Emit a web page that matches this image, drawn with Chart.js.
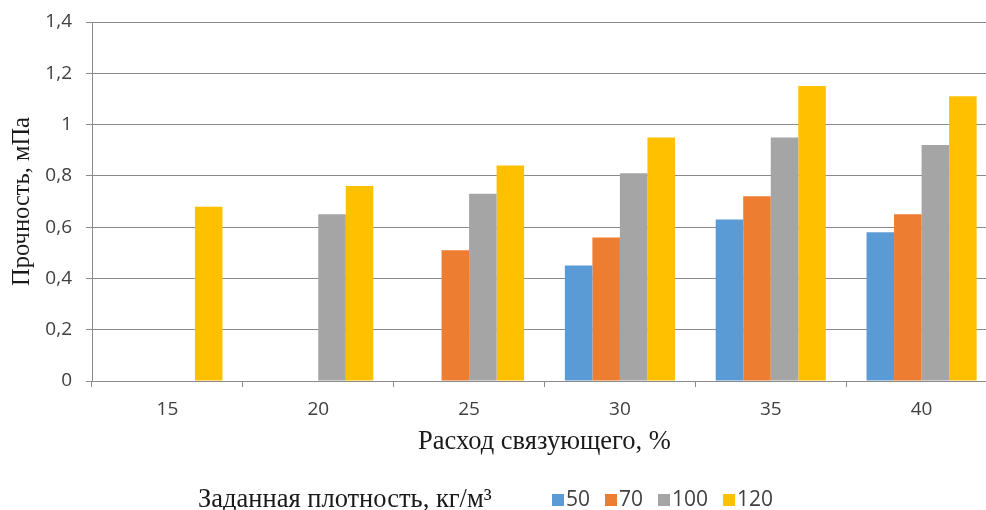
<!DOCTYPE html>
<html>
<head>
<meta charset="utf-8">
<script src="https://cdn.jsdelivr.net/npm/chart.js@4.4.0/dist/chart.umd.min.js"></script>
<style>
  html, body { margin: 0; padding: 0; background: #fff; overflow: hidden; }
  #wrap { width: 1000px; height: 510px; }
</style>
</head>
<body>
<div id="wrap"><canvas id="myChart"></canvas></div>
<script>
// data
const categories = ['15', '20', '25', '30', '35', '40'];
const seriesLabels = ['50', '70', '100', '120'];
const d50 = [null, null, null, 0.45, 0.63, 0.58];
const d70 = [null, null, 0.51, 0.56, 0.72, 0.65];
const d100 = [null, 0.65, 0.73, 0.81, 0.95, 0.92];
const d120 = [0.68, 0.76, 0.84, 0.95, 1.15, 1.11];
const colors = ['#5B9BD5', '#ED7D31', '#A5A5A5', '#FFC000'];

const legendTitle = 'Заданная плотность, кг/м³';
const axisGray = '#8a8a8a';

// legend row at the bottom, drawn by hand (title sits inline with items)
const bottomLegend = {
    id: 'bottomLegend',
    afterDraw(chart) {
        const ctx = chart.ctx;
        const y = 500;
        ctx.save();
        ctx.textBaseline = 'middle';
        ctx.fillStyle = '#1a1a1a';
        ctx.font = '26.5px "Liberation Serif"';
        ctx.fillText(legendTitle, 198, y);

        ctx.font = '21px "Open Sans"';
        let x = 552;
        chart.data.datasets.forEach((ds) => {
            ctx.fillStyle = ds.backgroundColor;
            ctx.fillRect(x, y - 6, 12, 12);
            ctx.fillStyle = '#404040';
            ctx.fillText(ds.label, x + 14, y);
            x += 14 + ctx.measureText(ds.label).width + 15;
        });
        ctx.restore();
    }
};

const ctx = document.getElementById('myChart').getContext('2d');
let myChart = new Chart(ctx, {
    type: 'bar',
    data: {
        labels: categories,
        datasets: [d50, d70, d100, d120].map((d, i) => ({
            label: seriesLabels[i],
            data: d,
            backgroundColor: colors[i],
            borderWidth: 0,
            categoryPercentage: 0.73,
            barPercentage: 1,
        })),
    },
    options: {
        responsive: true,
        maintainAspectRatio: false,
        animation: false,
        layout: { padding: { top: 22, right: 3, bottom: 0, left: 0 } },
        plugins: {
            legend: { display: false },
            tooltip: { enabled: false },
        },
        scales: {
            x: {
                offset: true,
                afterFit: (scale) => { scale.height = 129; },
                grid: {
                    offset: true,
                    drawOnChartArea: false,
                    drawTicks: true,
                    tickLength: 6,
                    color: axisGray,
                },
                border: { color: axisGray },
                ticks: {
                    color: '#404040',
                    padding: 11,
                    font: { family: 'Open Sans', size: 19 },
                },
                title: {
                    display: true,
                    text: 'Расход связующего, %',
                    color: '#1a1a1a',
                    font: { family: 'Liberation Serif', size: 26.5 },
                    padding: { top: 0, bottom: 52 },
                },
            },
            y: {
                min: 0,
                max: 1.4,
                afterFit: (scale) => {
                    scale.width = 92;
                    scale.paddingTop = 0;
                    scale.paddingBottom = 0;
                },
                grid: {
                    color: axisGray,
                    tickLength: 6,
                },
                border: { color: axisGray },
                ticks: {
                    stepSize: 0.2,
                    color: '#404040',
                    padding: 14,
                    font: { family: 'Open Sans', size: 19 },
                    callback: (v) => Number(v.toFixed(1)).toString().replace('.', ','),
                },
                title: {
                    display: true,
                    text: 'Прочность, мПа',
                    color: '#1a1a1a',
                    font: { family: 'Liberation Serif', size: 24.5 },
                    padding: { top: 8, bottom: 0 },
                },
            },
        },
    },
    plugins: [bottomLegend],
});
</script>
</body>
</html>
